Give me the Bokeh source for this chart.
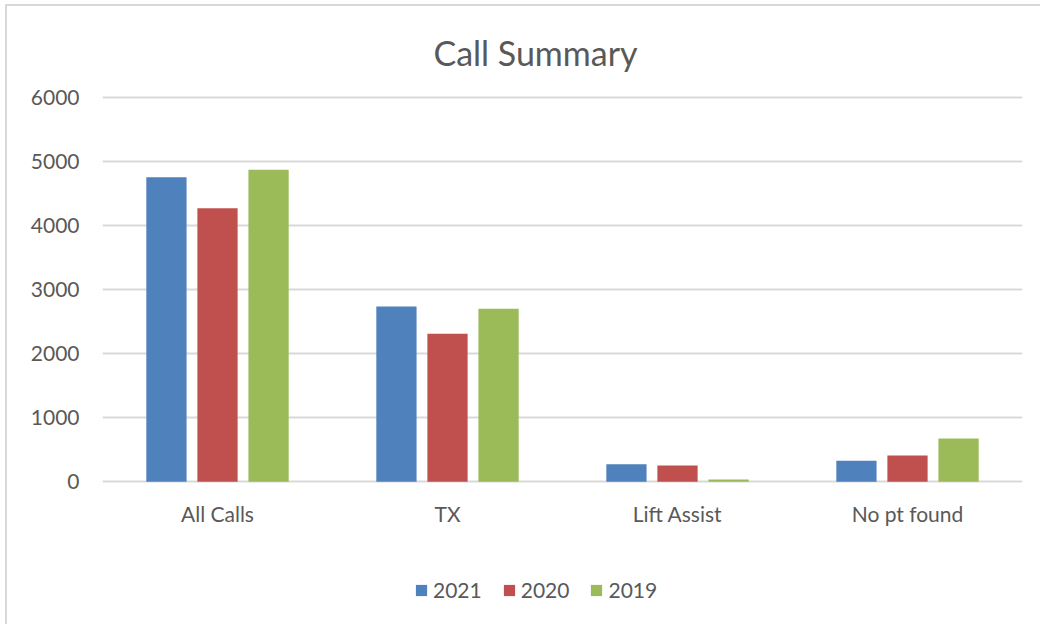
from bokeh.plotting import figure
from bokeh.models import ColumnDataSource, FactorRange, Range1d, Legend, LegendItem, Label, FixedTicker
from bokeh.transform import dodge
from bokeh.embed import file_html
from bokeh.resources import INLINE

categories = ["All Calls", "TX", "Lift Assist", "No pt found"]
series_names = ["2021", "2020", "2019"]
values_2021 = [4760, 2740, 275, 328]
values_2020 = [4275, 2312, 255, 410]
values_2019 = [4875, 2703, 36, 677]
y_ticks = [0, 1000, 2000, 3000, 4000, 5000, 6000]
colors = ["#4F81BD", "#C0504D", "#9BBB59"]

FONT = "Lato"
TEXT = "#595959"
GRID = "#D9D9D9"

source = ColumnDataSource(data=dict(cat=categories, s2021=values_2021, s2020=values_2020, s2019=values_2019))

# frame spans the title and legend area too; y scale = 64 px per 1000
p = figure(x_range=FactorRange(*categories, range_padding=0), y_range=Range1d(-1901.6, 7207.8),
           width=1035, height=620, output_backend="svg", toolbar_location=None,
           min_border_left=95, min_border_right=20, min_border_top=14, min_border_bottom=23)
p.title = None
p.outline_line_color = None
p.background_fill_color = "white"
p.border_fill_color = "white"

offsets = [-0.222, 0.0, 0.222]
cols = ["s2021", "s2020", "s2019"]
renderers = []
for col, off, c in zip(cols, offsets, colors):
    r = p.vbar(x=dodge("cat", off, range=p.x_range), top=col, width=0.175, source=source,
               fill_color=c, line_color=None)
    renderers.append(r)

p.yaxis.ticker = FixedTicker(ticks=y_ticks)
p.yaxis.axis_line_color = None
p.yaxis.major_tick_line_color = None
p.yaxis.minor_tick_line_color = None
p.yaxis.major_tick_out = 0
p.yaxis.major_tick_in = 0
p.yaxis.major_label_standoff = 23
p.yaxis.major_label_text_font = FONT
p.yaxis.major_label_text_font_size = "21px"
p.yaxis.major_label_text_color = TEXT

p.xaxis.fixed_location = -297
p.xaxis.axis_line_color = None
p.xaxis.major_tick_line_color = None
p.xaxis.major_tick_out = 0
p.xaxis.major_tick_in = 0
p.xaxis.major_label_standoff = 0
p.xaxis.major_label_text_font = FONT
p.xaxis.major_label_text_font_size = "21px"
p.xaxis.major_label_text_color = TEXT

p.xgrid.grid_line_color = None
p.ygrid.grid_line_color = GRID
p.ygrid.grid_line_width = 2

title = Label(x=1.8826, y=6708, text="Call Summary", text_font=FONT, text_font_size="34px",
              text_color=TEXT, text_align="center", text_baseline="alphabetic")
p.add_layout(title)

legend = Legend(items=[LegendItem(label=n, renderers=[r]) for n, r in zip(series_names, renderers)],
                orientation="horizontal", location=(312, 1))
legend.padding = 0
legend.margin = 0
legend.spacing = 20
legend.border_line_color = None
legend.background_fill_alpha = 0
legend.glyph_width = 14
legend.glyph_height = 14
legend.label_standoff = 5
legend.label_text_font = FONT
legend.label_text_font_size = "21px"
legend.label_text_color = TEXT
p.add_layout(legend, "center")

p.styles = {"margin-left": "5px", "margin-top": "4px",
            "border-left": "2px solid #D9D9D9", "border-top": "2px solid #D9D9D9"}

open("out.html", "w").write(file_html(p, INLINE))
